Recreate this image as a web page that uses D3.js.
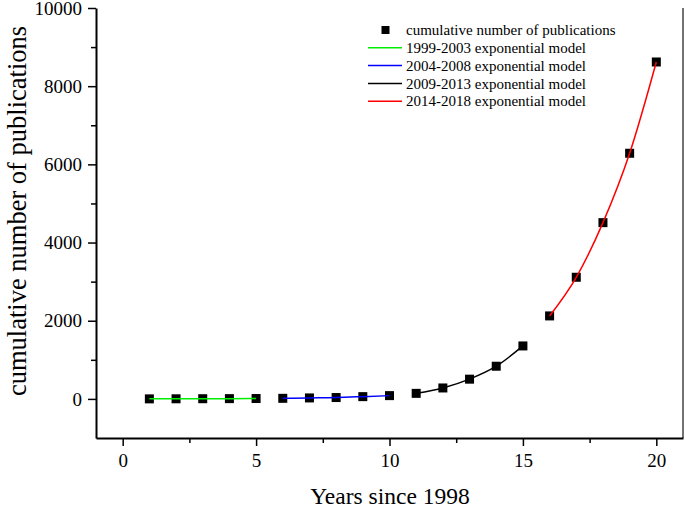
<!DOCTYPE html>
<html>
<head>
<meta charset="utf-8">
<script src="https://cdn.jsdelivr.net/npm/d3@7"></script>
<style>
  body { margin: 0; background: #fff; }
  svg { display: block; font-family: "Liberation Serif", "Times New Roman", serif; }
</style>
</head>
<body>
<svg id="chart" width="685" height="507"></svg>
<script>
// ---- data ----
const years = [1,2,3,4,5,6,7,8,9,10,11,12,13,14,15,16,17,18,19,20];
const cumulative = [1,3,5,7,10,15,25,35,58,84,142,280,505,836,1355,2123,3112,4509,6284,8619];
const segmentNames = ["1999-2003 exponential model","2004-2008 exponential model","2009-2013 exponential model","2014-2018 exponential model"];
const segmentStart = [1, 6, 11, 16];
const segmentEnd = [5, 10, 15, 20];
const segmentColors = ["#00ee00", "#0000ff", "#000000", "#ff0000"];
const xTicks = [0, 5, 10, 15, 20];
const xMinor = [2.5, 7.5, 12.5, 17.5];
const yTicks = [0, 2000, 4000, 6000, 8000, 10000];
const yMinor = [1000, 3000, 5000, 7000, 9000];
const pointLabel = "cumulative number of publications";
const xTitle = "Years since 1998";
const yTitle = "cumulative number of publications";

(function () {
const svg = d3.select("#chart");
const FONT = "Liberation Serif, Times New Roman, serif";
const mL = 96, mR = 683, mT = 8, mB = 438;
const x = d3.scaleLinear().domain([-1, 21]).range([mL, mR]);
const y = d3.scaleLinear().domain([-1000, 10000]).range([mB, mT]);

const data = years.map((v, i) => ({x: v, y: cumulative[i]}));

// right frame line
svg.append("line").attr("x1", mR).attr("x2", mR).attr("y1", mT).attr("y2", mB)
  .attr("stroke", "#444").attr("stroke-width", 1.5);

function styleAxis(g) {
  g.attr("font-family", FONT).attr("font-size", 19);
  g.selectAll("path.domain").attr("stroke", "#000").attr("stroke-width", 2);
  g.selectAll(".tick line").attr("stroke", "#000").attr("stroke-width", 1.5);
  g.selectAll(".tick text").attr("fill", "#000");
}
const xAxis = svg.append("g").attr("transform", `translate(0,${mB})`)
  .call(d3.axisBottom(x).tickValues(xTicks).tickSize(8).tickSizeOuter(0).tickPadding(8).tickFormat(d3.format("d")));
styleAxis(xAxis);
const xAxisMinor = svg.append("g").attr("transform", `translate(0,${mB})`)
  .call(d3.axisBottom(x).tickValues(xMinor).tickSize(5).tickSizeOuter(0).tickFormat(""));
styleAxis(xAxisMinor);
xAxisMinor.select("path.domain").remove();

const yAxis = svg.append("g").attr("transform", `translate(${mL},0)`)
  .call(d3.axisLeft(y).tickValues(yTicks).tickSize(8).tickSizeOuter(0).tickPadding(6).tickFormat(d3.format("d")));
styleAxis(yAxis);
const yAxisMinor = svg.append("g").attr("transform", `translate(${mL},0)`)
  .call(d3.axisLeft(y).tickValues(yMinor).tickSize(5).tickSizeOuter(0).tickFormat(""));
styleAxis(yAxisMinor);
yAxisMinor.select("path.domain").remove();

svg.append("text").attr("x", 390).attr("y", 503.5)
  .attr("text-anchor", "middle").attr("font-family", FONT).attr("font-size", 23.5).attr("fill", "#000").text(xTitle);
svg.append("text").attr("transform", `translate(26,211) rotate(-90)`)
  .attr("text-anchor", "middle").attr("font-family", FONT).attr("font-size", 26.5).attr("fill", "#000").text(yTitle);

const line = d3.line().x(d => x(d.x)).y(d => y(d.y)).curve(d3.curveMonotoneX);

const ms = 9;
svg.append("g").selectAll("rect").data(data).join("rect")
  .attr("x", d => x(d.x) - ms / 2).attr("y", d => y(d.y) - ms / 2)
  .attr("width", ms).attr("height", ms).attr("fill", "#000");

segmentNames.forEach((name, i) => {
  const seg = data.filter(d => d.x >= segmentStart[i] && d.x <= segmentEnd[i]);
  svg.append("path").datum(seg).attr("d", line).attr("fill", "none")
    .attr("stroke", segmentColors[i]).attr("stroke-width", 1.5);
});

const lg = svg.append("g").attr("font-family", FONT).attr("font-size", 15);
const lx1 = 368, lx2 = 402, tx = 406, ly0 = 30, dy = 17.8;
lg.append("rect").attr("x", 385.5 - 4).attr("y", ly0 - 4).attr("width", 8).attr("height", 8).attr("fill", "#000");
lg.append("text").attr("x", tx).attr("y", ly0).attr("dy", "0.35em").attr("fill", "#000").text(pointLabel);
segmentNames.forEach((name, i) => {
  const yy = ly0 + dy * (i + 1);
  lg.append("line").attr("x1", lx1).attr("x2", lx2).attr("y1", yy).attr("y2", yy)
    .attr("stroke", segmentColors[i]).attr("stroke-width", 1.5);
  lg.append("text").attr("x", tx).attr("y", yy).attr("dy", "0.35em").attr("fill", "#000").text(name);
});
})();
</script>
</body>
</html>
